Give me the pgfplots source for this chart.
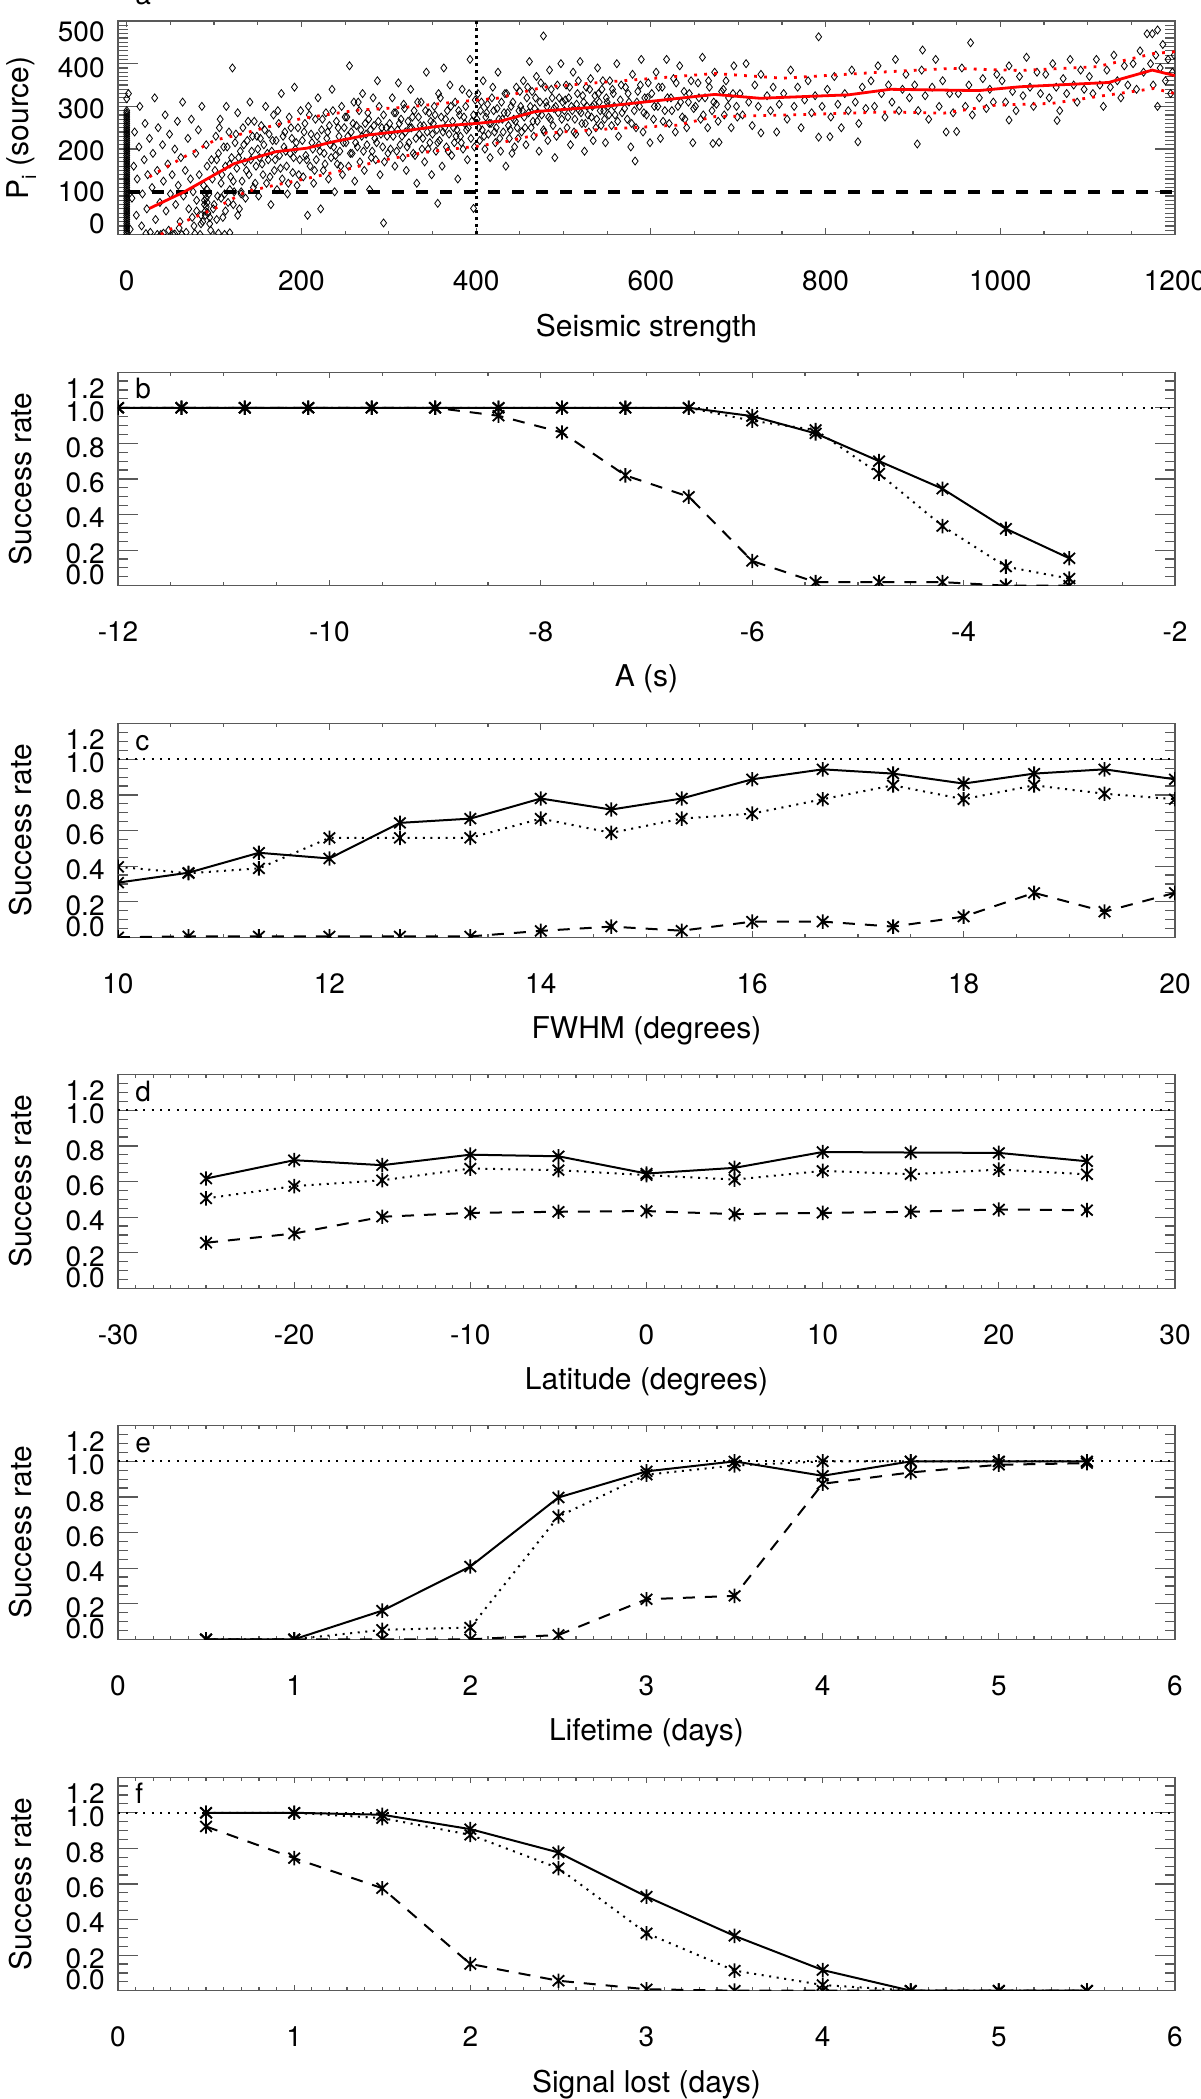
\documentclass[border=0pt]{standalone}
\usepackage{pgfplots}
\pgfplotsset{compat=1.18}
\usepackage{fontspec}
\setmainfont{TeX Gyre Heros}
\newcommand\tfont{\fontsize{14}{16}\selectfont}
\newcommand\lfont{\fontsize{15}{18}\selectfont}
\pgfdeclareplotmark{idlstar}{%
  \pgfpathmoveto{\pgfqpoint{0pt}{\pgfplotmarksize}}%
  \pgfpathlineto{\pgfqpoint{0pt}{-\pgfplotmarksize}}%
  \pgfpathmoveto{\pgfqpoint{0.8\pgfplotmarksize}{0.75\pgfplotmarksize}}%
  \pgfpathlineto{\pgfqpoint{-0.8\pgfplotmarksize}{-0.75\pgfplotmarksize}}%
  \pgfpathmoveto{\pgfqpoint{-0.8\pgfplotmarksize}{0.75\pgfplotmarksize}}%
  \pgfpathlineto{\pgfqpoint{0.8\pgfplotmarksize}{-0.75\pgfplotmarksize}}%
  \pgfusepathqstroke}
\tikzset{
  ylab/.style={anchor=east, inner sep=0pt, font=\tfont, xshift=-6.5pt},
  plab/.style={anchor=base west, inner sep=0pt, font=\tfont, xshift=8.5pt, yshift=-13.25pt},
}
\pgfplotsset{
  panel/.style={scale only axis, width=528.5pt, height=106.75pt, anchor=south west,
    axis line style={black!65, line width=0.6pt},
    every tick/.style={black!65, line width=0.6pt},
    xtick style={/pgfplots/major tick length=3pt,/pgfplots/minor tick length=1.8pt},
    ytick style={/pgfplots/major tick length=10pt,/pgfplots/minor tick length=5pt},
    tick align=inside, yticklabels={},
    xticklabel style={font=\tfont, inner sep=0pt, yshift=-18pt},
    xlabel style={font=\lfont, at={(axis description cs:0.5,-0.37)}, anchor=north, inner sep=0pt},
    ylabel style={font=\lfont, at={(axis description cs:-0.0814,0.5)}, anchor=base, inner sep=0pt},
    clip mode=individual, clip marker paths=true},
  rate/.style={panel, ymin=0, ymax=1.2, ytick={0,0.2,...,1.21}, minor y tick num=3, ylabel={Success rate}},
  sol/.style={black, line width=1pt, mark=idlstar, mark size=3.6pt, mark options={solid, line width=0.9pt}},
  dot/.style={sol, dash pattern=on 1pt off 2.8pt},
  dsh/.style={sol, dash pattern=on 6pt off 5pt},
  ref/.style={black, line width=1pt, dash pattern=on 1pt off 3.2pt},
}
\newcommand\ratelabels{%
  \node[ylab] at (rel axis cs:0,0.925) {1.2};
  \node[ylab] at (rel axis cs:0,0.816) {1.0};
  \node[ylab] at (rel axis cs:0,0.644) {0.8};
  \node[ylab] at (rel axis cs:0,0.480) {0.6};
  \node[ylab] at (rel axis cs:0,0.316) {0.4};
  \node[ylab] at (rel axis cs:0,0.148) {0.2};
  \node[ylab] at (rel axis cs:0,0.050) {0.0};
}
\begin{document}
\begin{tikzpicture}
\useasboundingbox (0,0) rectangle (600pt,1049.5pt);
% ---------------- panel a
\begin{axis}[panel, at={(59pt,932.25pt)}, xmin=-10, xmax=1200, ymin=0, ymax=500,
  xtick={0,200,...,1200}, xticklabels={0,200,400,600,800,1000,1200}, minor x tick num=3,
  ytick={0,100,...,500}, minor y tick num=9,
  xlabel={Seismic strength},
  ylabel={P\raisebox{-4pt}{\fontsize{10}{10}\selectfont i} (source)},
  ylabel style={at={(axis description cs:-0.0851,0.5)}}]
\addplot[only marks, mark=diamond, mark size=2pt, mark options={black, line width=0.4pt}] coordinates {
(0,0) (0,5) (0,10) (0,15) (0,20) (0,25) (0,30) (0,35) (0,40) (0,45) (0,50) (0,55) (0,60) (0,65) (0,70) (0,75) (0,80) (0,85) (0,90) (0,95)
(0,100) (0,105) (0,110) (0,115) (0,120) (0,125) (0,130) (0,135) (0,140) (0,145) (0,150) (0,155) (0,160) (0,165) (0,170) (0,175) (0,180) (0,185) (0,190) (0,195)
(0,200) (0,205) (0,210) (0,215) (0,220) (0,225) (0,230) (0,235) (0,240) (0,245) (0,250) (0,255) (0,260) (0,265) (0,270) (0,275) (0,280) (0,285) (0,290) (0,318) (2,330)
(22,2) (35,0) (42,3) (55,1) (63,0) (78,2) (84,0) (105,3) (112,0) (118,4)
(4,12) (6,85) (8,160) (9,240) (11,45) (12,130) (14,205) (15,300) (17,20) (18,95) (20,175) (21,260) (23,60) (24,140) (26,225) (27,5) (29,110) (30,190) (32,320) (33,35) (35,150) (36,250) (38,75) (39,0) (41,210) (42,125) (44,280) (45,55) (47,165) (48,10) (49,235) (50,95)
(52,140) (53,0) (55,200) (56,70) (58,265) (59,115) (61,30) (62,180) (64,310) (65,90) (67,150) (68,5) (70,225) (71,60) (73,130) (74,270) (76,100) (77,20) (79,190) (80,80) (82,245) (83,140) (85,45) (86,300) (88,115) (89,70) (91,210) (92,160) (94,95) (95,25) (97,175) (98,130) (99,60)
(90,45) (90,55) (91,65) (92,75) (91,85) (90,95) (92,105) (93,50) (89,80)
(75,40) (80,55) (85,25) (95,40) (100,70) (103,35) (108,85) (113,55) (118,105) (122,70) (127,45) (131,95) (87,30) (96,10) (60,15)
(101,150) (102,230) (104,90) (105,190) (107,270) (108,120) (110,40) (111,205) (113,160) (114,300) (116,75) (117,240) (119,135) (120,180) (121,390) (123,100) (124,215) (126,155) (127,285) (129,60) (130,195) (132,125) (133,250) (135,170) (136,85) (138,220) (140,140) (141,310) (143,195) (145,110) (146,265) (148,160) (149,230)
(103,175) (106,250) (109,140) (112,95) (115,205) (118,165) (122,125) (125,235) (128,180) (131,100) (134,210) (137,150) (139,265) (142,175) (144,230) (147,120) (150,200)
(151,90) (152,180) (154,255) (156,140) (157,210) (159,300) (160,120) (162,175) (163,235) (165,70) (166,195) (168,280) (169,150) (171,220) (172,105) (174,260) (175,185) (177,330) (178,130) (180,205) (181,240) (183,160) (184,95) (186,275) (187,190) (189,225) (190,145) (192,345) (193,200) (195,115) (196,250) (198,175) (199,290)
(153,225) (155,165) (158,245) (161,190) (164,135) (167,220) (170,175) (173,290) (176,155) (179,230) (182,195) (185,120) (188,250) (191,180) (194,215) (197,140)
(201,220) (202,135) (204,260) (205,185) (207,45) (208,300) (210,160) (211,235) (213,200) (214,120) (216,270) (217,175) (219,320) (220,210) (222,60) (223,245) (225,150) (226,190) (228,285) (229,225) (231,130) (232,255) (234,180) (235,340) (237,205) (238,100) (240,265) (241,165) (243,230) (244,195) (246,300) (247,140) (249,250)
(203,240) (206,175) (209,280) (212,215) (215,150) (218,230) (221,195) (224,270) (227,165) (230,240) (233,210) (236,290) (239,185) (242,250) (245,160) (248,215)
(251,215) (252,275) (254,160) (255,395) (257,240) (258,190) (260,310) (261,125) (263,255) (264,205) (266,290) (267,170) (269,230) (270,330) (272,150) (273,260) (275,210) (276,285) (278,105) (279,245) (281,195) (282,320) (284,225) (285,175) (287,360) (288,265) (290,140) (291,235) (293,205) (294,280) (294,27) (297,250) (299,190)
(250,275) (253,230) (256,190) (259,260) (262,215) (265,310) (268,245) (271,195) (274,235) (277,270) (280,180) (283,255) (286,215) (289,300) (292,250) (295,170) (298,230)
(301,260) (302,200) (304,320) (305,230) (307,160) (308,285) (310,245) (311,355) (313,210) (314,270) (316,180) (317,305) (319,240) (320,150) (322,265) (323,215) (325,340) (326,250) (328,190) (329,290) (331,225) (332,120) (334,275) (335,235) (337,310) (338,200) (340,255) (341,170) (343,380) (344,240) (346,285) (347,215) (349,140)
(303,245) (306,285) (309,195) (312,260) (315,230) (318,295) (321,205) (324,250) (327,275) (330,185) (333,310) (336,255) (339,225) (342,290) (345,200) (348,265)
(351,260) (352,300) (354,195) (355,245) (356,73) (357,330) (358,220) (360,275) (361,160) (363,390) (364,250) (366,205) (367,290) (369,235) (370,350) (372,185) (373,265) (375,215) (376,310) (378,245) (379,130) (381,280) (382,230) (384,340) (385,200) (387,260) (388,300) (390,175) (391,250) (393,410) (394,225) (397,61) (397,280) (399,315)
(350,235) (353,280) (356,215) (359,320) (362,240) (365,270) (368,195) (371,300) (374,250) (377,230) (380,290) (383,215) (386,275) (389,245) (392,330) (395,265) (398,205)
(401,270) (402,330) (404,220) (405,290) (407,245) (408,360) (410,200) (411,275) (413,305) (414,235) (416,180) (417,260) (419,345) (420,290) (422,215) (423,250) (425,380) (426,270) (428,195) (429,310) (431,240) (432,285) (434,160) (435,330) (437,255) (438,225) (440,300) (441,190) (443,270) (444,205) (446,345) (447,250) (449,290)
(403,250) (406,310) (409,230) (412,285) (415,260) (418,320) (421,240) (424,295) (427,225) (430,270) (433,330) (436,285) (439,245) (442,310) (445,265) (448,225)
(451,300) (452,240) (454,360) (455,275) (457,210) (458,320) (460,285) (461,405) (463,250) (464,335) (466,230) (467,295) (469,370) (470,265) (472,195) (473,310) (475,280) (477,465) (478,240) (479,345) (481,300) (482,220) (484,385) (485,270) (487,320) (488,255) (490,180) (491,300) (493,350) (494,285) (496,240) (497,400) (499,310)
(450,335) (453,290) (456,250) (459,345) (462,300) (465,265) (468,320) (471,285) (474,355) (477,245) (480,310) (483,275) (486,340) (489,295) (492,230) (495,320) (498,270)
(501,290) (503,350) (504,250) (506,320) (508,210) (509,300) (511,380) (513,270) (514,235) (516,330) (518,290) (519,405) (521,260) (523,310) (524,195) (526,345) (528,280) (529,240) (531,365) (533,300) (534,220) (536,325) (538,270) (539,390) (541,310) (543,255) (544,340) (546,290) (548,215) (549,320)
(502,315) (505,275) (507,345) (510,290) (512,240) (515,305) (517,360) (520,285) (522,325) (525,260) (527,300) (530,340) (532,275) (535,305) (537,250) (540,330) (542,290) (545,360) (547,270)
(551,300) (553,360) (555,255) (557,330) (559,280) (561,400) (563,230) (565,315) (567,285) (582,172) (571,345) (573,270) (575,310) (577,205) (579,375) (581,290) (583,250) (585,335) (587,300) (589,410) (591,240) (593,320) (595,280) (597,355) (599,215)
(550,310) (552,280) (556,340) (558,300) (562,265) (566,350) (570,295) (574,330) (578,260) (584,310) (588,350) (592,285) (596,320)
(601,330) (603,270) (606,380) (608,300) (611,225) (613,345) (616,290) (618,410) (621,260) (623,320) (626,365) (628,240) (631,300) (633,395) (636,275) (638,335) (641,250) (643,310) (646,360) (648,215)
(604,300) (609,345) (614,265) (619,320) (624,290) (629,355) (634,310) (639,270) (644,330) (649,295)
(651,300) (654,355) (657,270) (659,415) (662,320) (665,250) (667,345) (670,290) (673,380) (675,305) (671,213) (678,216) (681,335) (684,280) (686,360) (689,320) (692,250) (695,395) (698,300)
(655,320) (660,280) (666,360) (672,310) (677,265) (683,340) (688,300) (694,330) (699,275)
(702,330) (705,280) (709,400) (712,310) (716,255) (719,350) (723,300) (726,375) (726,238) (733,325) (737,290) (740,345) (744,240) (747,305)
(752,330) (756,270) (760,385) (764,300) (768,345) (772,250) (776,315) (780,360) (784,285) (788,325) (792,463) (796,300) (792,228) (805,229)
(802,340) (806,275) (810,370) (814,305) (818,250) (822,330) (826,290) (830,385) (834,310) (838,260) (842,345) (846,295) (837,217)
(852,360) (856,300) (860,395) (864,330) (868,275) (872,350) (876,310) (880,410) (884,290) (888,340) (892,375) (896,320)
(902,350) (906,290) (910,385) (914,325) (918,270) (922,345) (926,410) (930,300) (934,360) (938,240) (942,330) (946,285) (905,212) (911,432)
(952,330) (956,390) (960,300) (964,350) (968,280) (966,449) (976,320) (980,365) (984,295) (988,340) (992,310) (996,375) (950,241)
(1002,360) (1006,310) (1010,395) (1014,335) (1018,290) (1022,370) (1026,325) (1030,415) (1034,345) (1038,300) (1042,380) (1046,330) (1010,268)
(1052,375) (1056,320) (1060,400) (1064,345) (1068,290) (1072,365) (1076,330) (1080,410) (1084,350) (1088,310) (1092,385) (1096,340) (1065,267)
(1102,370) (1106,330) (1110,410) (1114,350) (1118,300) (1122,385) (1126,345) (1130,420) (1134,360) (1138,320) (1142,395) (1146,350)
(1152,400) (1156,340) (1160,430) (1164,380) (1168,470) (1180,479) (1172,400) (1175,350) (1178,420) (1180,300) (1183,390) (1186,445) (1189,360) (1192,410) (1195,330) (1197,380) (1199,420) (1174,470)
};
\addplot[black, line width=2pt, dash pattern=on 6pt off 6pt] coordinates {(2,100) (1200,100)};
\addplot[black, line width=1.5pt, dash pattern=on 1.5pt off 2pt] coordinates {(400,0) (400,500)};
\addplot[red, line width=1.4pt] coordinates {(26,61) (66,100) (123,166) (171,194) (206,202) (236,217) (276,233) (319,243) (359,254) (400,260) (429,266) (468,288) (542,299) (673,328) (725,319) (826,327) (874,340) (975,337) (1023,346) (1124,356) (1174,385) (1200,372)};
\addplot[red, line width=1.4pt, dash pattern=on 1.4pt off 3.6pt] coordinates {(26,135) (66,182) (101,221) (127,233) (162,252) (201,272) (263,291) (319,298) (381,311) (424,319) (477,345) (542,356) (673,377) (751,366) (870,381) (945,389) (1023,384) (1111,393) (1176,424) (1200,428)};
\addplot[red, line width=1.4pt, dash pattern=on 1.4pt off 3.6pt] coordinates {(39,0) (66,30) (101,61) (136,100) (171,116) (206,131) (249,151) (293,174) (346,194) (402,207) (433,217) (477,237) (542,246) (630,256) (673,276) (760,280) (870,287) (935,284) (995,303) (1059,307) (1111,323) (1176,342) (1200,330)};
\node[ylab] at (rel axis cs:0,0.948) {500};
\node[ylab] at (rel axis cs:0,0.780) {400};
\node[ylab] at (rel axis cs:0,0.587) {300};
\node[ylab] at (rel axis cs:0,0.390) {200};
\node[ylab] at (rel axis cs:0,0.200) {100};
\node[ylab] at (rel axis cs:0,0.052) {0};
\node[anchor=base west, inner sep=0pt, font=\tfont, xshift=8.5pt, yshift=8pt] at (rel axis cs:0,1) {a};
\end{axis}
% ---------------- panel b
\begin{axis}[rate, at={(59pt,756.65pt)}, xmin=-12, xmax=-2,
  xtick={-12,-10,...,-2}, xticklabels={-12,-10,-8,-6,-4,-2}, minor x tick num=3, xlabel={A (s)}]
\addplot[ref] coordinates {(-12,1) (-2,1)};
\addplot[dot] coordinates {(-12,1) (-11.4,1) (-10.8,1) (-10.2,1) (-9.6,1) (-9.0,1) (-8.4,1) (-7.8,1) (-7.2,1) (-6.6,1) (-6.0,0.927) (-5.4,0.875) (-4.8,0.63) (-4.2,0.335) (-3.6,0.107) (-3.0,0.04)};
\addplot[dsh] coordinates {(-12,1) (-11.4,1) (-10.8,1) (-10.2,1) (-9.6,1) (-9.0,1) (-8.4,0.955) (-7.8,0.861) (-7.2,0.62) (-6.6,0.50) (-6.0,0.139) (-5.4,0.02) (-4.8,0.02) (-4.2,0.02) (-3.6,0.0) (-3.0,0.0)};
\addplot[sol] coordinates {(-12,1) (-11.4,1) (-10.8,1) (-10.2,1) (-9.6,1) (-9.0,1) (-8.4,1) (-7.8,1) (-7.2,1) (-6.6,1) (-6.0,0.953) (-5.4,0.856) (-4.8,0.70) (-4.2,0.545) (-3.6,0.32) (-3.0,0.154)};
\ratelabels
\node[plab] at (rel axis cs:0,1) {b};
\end{axis}
% ---------------- panel c
\begin{axis}[rate, at={(59pt,580.85pt)}, xmin=10, xmax=20,
  xtick={10,12,...,20}, xticklabels={10,12,14,16,18,20}, minor x tick num=3, xlabel={FWHM (degrees)}]
\addplot[ref] coordinates {(10,1) (20,1)};
\addplot[dot] coordinates {(10,0.396) (10.667,0.36) (11.333,0.387) (12,0.559) (12.667,0.559) (13.333,0.559) (14,0.667) (14.667,0.587) (15.333,0.667) (16,0.695) (16.667,0.776) (17.333,0.854) (18,0.776) (18.667,0.854) (19.333,0.807) (20,0.776)};
\addplot[dsh] coordinates {(10,0) (10.667,0.005) (11.333,0.005) (12,0.005) (12.667,0.005) (13.333,0.005) (14,0.036) (14.667,0.06) (15.333,0.037) (16,0.088) (16.667,0.088) (17.333,0.06) (18,0.116) (18.667,0.25) (19.333,0.144) (20,0.25)};
\addplot[sol] coordinates {(10,0.307) (10.667,0.363) (11.333,0.475) (12,0.443) (12.667,0.643) (13.333,0.667) (14,0.78) (14.667,0.718) (15.333,0.78) (16,0.888) (16.667,0.944) (17.333,0.92) (18,0.864) (18.667,0.92) (19.333,0.944) (20,0.888)};
\ratelabels
\node[plab] at (rel axis cs:0,1) {c};
\end{axis}
% ---------------- panel d
\begin{axis}[rate, at={(59pt,405.35pt)}, xmin=-30, xmax=30,
  xtick={-30,-20,...,30}, xticklabels={-30,-20,-10,0,10,20,30}, minor x tick num=9, xlabel={Latitude (degrees)}]
\addplot[ref] coordinates {(-30,1) (30,1)};
\addplot[dot] coordinates {(-25,0.505) (-20,0.574) (-15,0.607) (-10,0.673) (-5,0.664) (0,0.636) (5,0.611) (10,0.66) (15,0.641) (20,0.667) (25,0.641)};
\addplot[dsh] coordinates {(-25,0.256) (-20,0.308) (-15,0.402) (-10,0.424) (-5,0.43) (0,0.434) (5,0.417) (10,0.424) (15,0.43) (20,0.443) (25,0.439)};
\addplot[sol] coordinates {(-25,0.617) (-20,0.72) (-15,0.692) (-10,0.751) (-5,0.742) (0,0.645) (5,0.677) (10,0.766) (15,0.763) (20,0.761) (25,0.714)};
\ratelabels
\node[plab] at (rel axis cs:0,1) {d};
\end{axis}
% ---------------- panel e
\begin{axis}[rate, at={(59pt,229.85pt)}, xmin=0, xmax=6,
  xtick={0,...,6}, xticklabels={0,1,2,3,4,5,6}, minor x tick num=9, xlabel={Lifetime (days)}]
\addplot[ref] coordinates {(0,1) (6,1)};
\addplot[dot] coordinates {(0.5,0) (1,0) (1.5,0.053) (2,0.066) (2.5,0.69) (3,0.925) (3.5,0.977) (4,1.0) (4.5,1.0) (5,1.0) (5.5,1.0)};
\addplot[dsh] coordinates {(0.5,0) (1,0) (1.5,0) (2,0) (2.5,0.024) (3,0.225) (3.5,0.244) (4,0.874) (4.5,0.938) (5,0.981) (5.5,0.99)};
\addplot[sol] coordinates {(0.5,0) (1,0) (1.5,0.161) (2,0.409) (2.5,0.797) (3,0.944) (3.5,1.0) (4,0.919) (4.5,1.0) (5,1.0) (5.5,1.0)};
\ratelabels
\node[plab] at (rel axis cs:0,1) {e};
\end{axis}
% ---------------- panel f
\begin{axis}[rate, at={(59pt,54.15pt)}, xmin=0, xmax=6,
  xtick={0,...,6}, xticklabels={0,1,2,3,4,5,6}, minor x tick num=9, xlabel={Signal lost (days)}]
\addplot[ref] coordinates {(0,1) (6,1)};
\addplot[dot] coordinates {(0.5,1.0) (1,1.0) (1.5,0.97) (2,0.876) (2.5,0.689) (3,0.323) (3.5,0.113) (4,0.032) (4.5,0) (5,0) (5.5,0)};
\addplot[dsh] coordinates {(0.5,0.923) (1,0.745) (1.5,0.576) (2,0.15) (2.5,0.056) (3,0.008) (3.5,0) (4,0) (4.5,0) (5,0) (5.5,0)};
\addplot[sol] coordinates {(0.5,1.0) (1,1.0) (1.5,0.989) (2,0.908) (2.5,0.777) (3,0.529) (3.5,0.308) (4,0.116) (4.5,0) (5,0) (5.5,0)};
\ratelabels
\node[plab] at (rel axis cs:0,1) {f};
\end{axis}
\end{tikzpicture}
\end{document}
